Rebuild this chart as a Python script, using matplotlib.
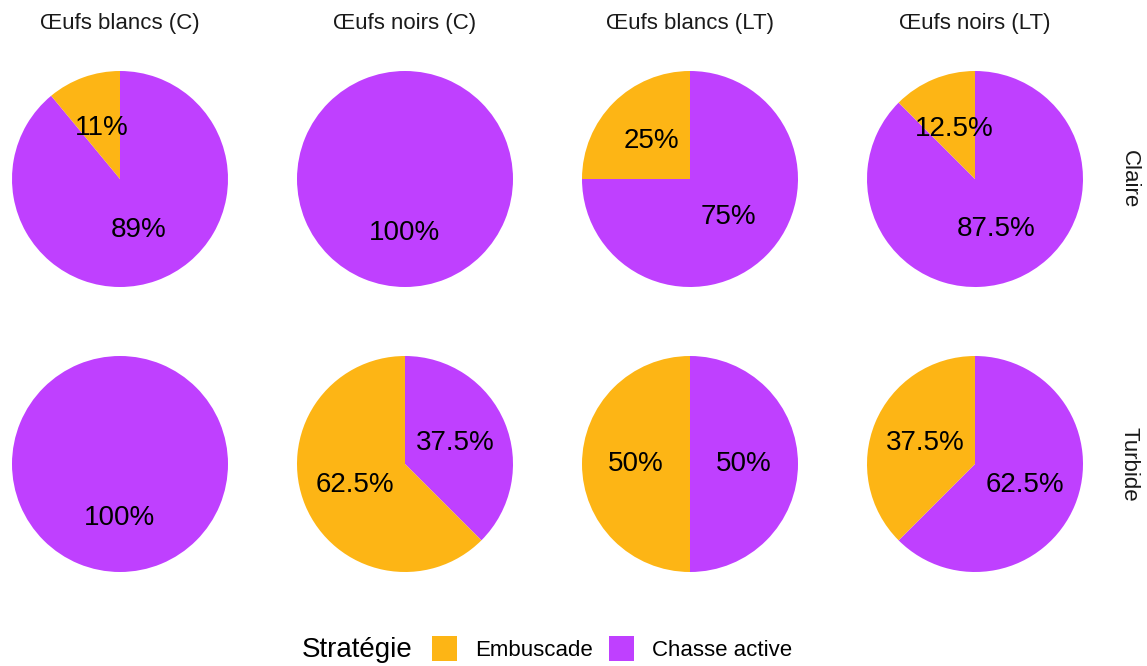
import numpy as np
import matplotlib.pyplot as plt
from matplotlib.patches import Rectangle

plt.rcParams['font.family'] = ['Liberation Sans', 'DejaVu Sans']

# donnees
colonnes = ["Œufs blancs (C)", "Œufs noirs (C)", "Œufs blancs (LT)", "Œufs noirs (LT)"]
lignes = ["Claire", "Turbide"]
strategies = ["Embuscade", "Chasse active"]
embuscade = [[11, 0, 25, 12.5],
             [0, 62.5, 50, 37.5]]
chasse = [[89, 100, 75, 87.5],
          [100, 37.5, 50, 62.5]]
etiq_emb = [["11%", "", "25%", "12.5%"],
            ["", "62.5%", "50%", "37.5%"]]
etiq_cha = [["89%", "100%", "75%", "87.5%"],
            ["100%", "37.5%", "50%", "62.5%"]]

c_emb = "#FDB515"
c_cha = "#BF40FF"
couleurs = [c_emb, c_cha]

W, H = 1147, 666
fig = plt.figure(figsize=(W/100, H/100), dpi=100)

cx = [120, 405, 690, 975]
cy = [179, 464]
R = 108

for i in range(2):
    for j in range(4):
        ax = fig.add_axes([(cx[j]-R)/W, 1-(cy[i]+R)/H, 2*R/W, 2*R/H])
        vals = [chasse[i][j], embuscade[i][j]]
        labs = [etiq_cha[i][j], etiq_emb[i][j]]
        keep = [k for k in range(2) if vals[k] > 0]
        ax.pie([vals[k] for k in keep],
               colors=[[c_cha, c_emb][k] for k in keep],
               startangle=90, counterclock=False, radius=1)
        # etiquettes au milieu des parts
        tot = sum(vals)
        acc = 0
        for k in range(2):
            if vals[k] <= 0:
                continue
            mid = (acc + vals[k]/2)/tot*2*np.pi
            acc += vals[k]
            r = 0.5
            ax.text(r*np.sin(mid), r*np.cos(mid), labs[k], ha="center", va="center",
                    fontsize=20)
        ax.set_xlim(-1, 1)
        ax.set_ylim(-1, 1)
        ax.set_aspect("equal")
        ax.axis("off")

for j in range(4):
    fig.text(cx[j]/W, 1-23/H, colonnes[j], ha="center", va="center", fontsize=16, color="#1a1a1a")
for i in range(2):
    fig.text(1129/W, 1-cy[i]/H, lignes[i], ha="center", va="center", rotation=-90,
             fontsize=16, color="#1a1a1a")

# legende
fig.text(302/W, 1-650/H, "Stratégie", ha="left", va="center", fontsize=20)
kx = [432, 609]
tx = [475, 652]
for k in range(2):
    fig.add_artist(Rectangle((kx[k]/W, 1-661/H), 25/W, 25/H, facecolor=couleurs[k],
                             transform=fig.transFigure))
    fig.text(tx[k]/W, 1-650/H, strategies[k], ha="left", va="center", fontsize=16)

plt.savefig("out.png", dpi=100)
